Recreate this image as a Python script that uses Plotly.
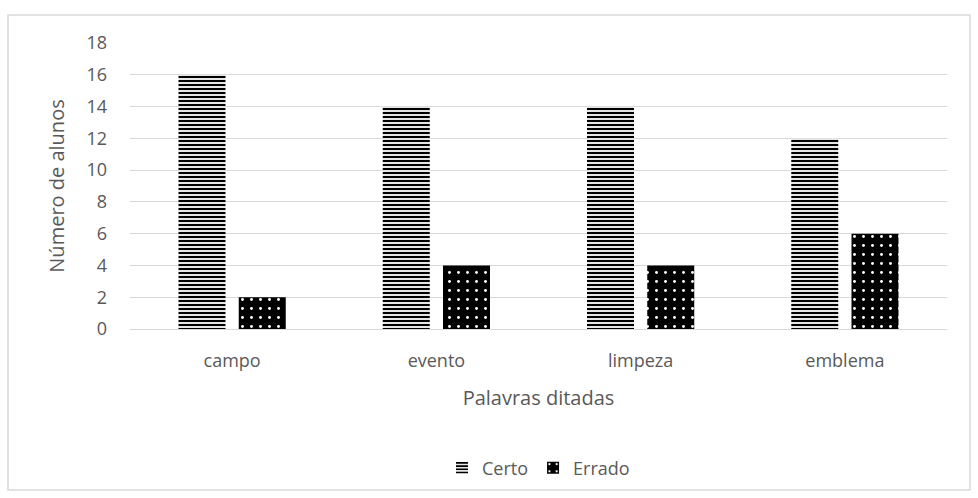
import plotly.graph_objects as go

categories = ["campo", "evento", "limpeza", "emblema"]
certo = [16, 14, 14, 12]
errado = [2, 4, 4, 6]
y_ticks = [0, 2, 4, 6, 8, 10, 12, 14, 16, 18]

W, H = 978, 498
L, R, T, B = 130, 31, 43, 169
pw, ph = W - L - R, H - T - B

font_c = "#595959"
ff = "Open Sans, Liberation Sans, sans-serif"

fig = go.Figure()
fig.add_trace(go.Bar(
    x=categories, y=certo, name="Certo",
    marker=dict(color="white", line=dict(width=0),
                pattern=dict(shape="-", fgcolor="black", bgcolor="white",
                             size=4, solidity=0.55, fillmode="replace")),
))
fig.add_trace(go.Bar(
    x=categories, y=errado, name="Errado",
    marker=dict(color="black", line=dict(width=0),
                pattern=dict(shape=".", fgcolor="white", bgcolor="black",
                             size=9, solidity=0.08, fillmode="replace")),
))

fig.update_layout(
    width=W, height=H,
    margin=dict(l=L, r=R, t=T, b=B),
    paper_bgcolor="white", plot_bgcolor="white",
    barmode="group", bargap=0.41, bargroupgap=0.22,
    font=dict(family=ff, color=font_c, size=18),
    xaxis=dict(title=dict(text="Palavras ditadas", font=dict(size=20), standoff=19),
               showgrid=False, showline=False, ticks="", tickfont=dict(size=18),
               ticklabelstandoff=19),
    yaxis=dict(title=dict(text="Número de alunos", font=dict(size=20), standoff=16),
               range=[0, 18], tickvals=y_ticks, showgrid=True, gridcolor="#d9d9d9",
               gridwidth=1, zeroline=True, zerolinecolor="#d9d9d9", zerolinewidth=1,
               ticks="", tickfont=dict(size=18), ticklabelstandoff=22),
    legend=dict(orientation="h", x=0.5, xanchor="center", y=-(468 - T - ph) / ph,
                yanchor="middle", font=dict(size=18), traceorder="normal"),
    shapes=[dict(type="rect", xref="paper", yref="paper",
                 x0=(8 - L) / pw, x1=(970 - L) / pw,
                 y0=1 - (490 - T) / ph, y1=1 - (15 - T) / ph,
                 line=dict(color="#d9d9d9", width=1.5), fillcolor="rgba(0,0,0,0)",
                 layer="below")],
)

fig.write_html("out.html")
